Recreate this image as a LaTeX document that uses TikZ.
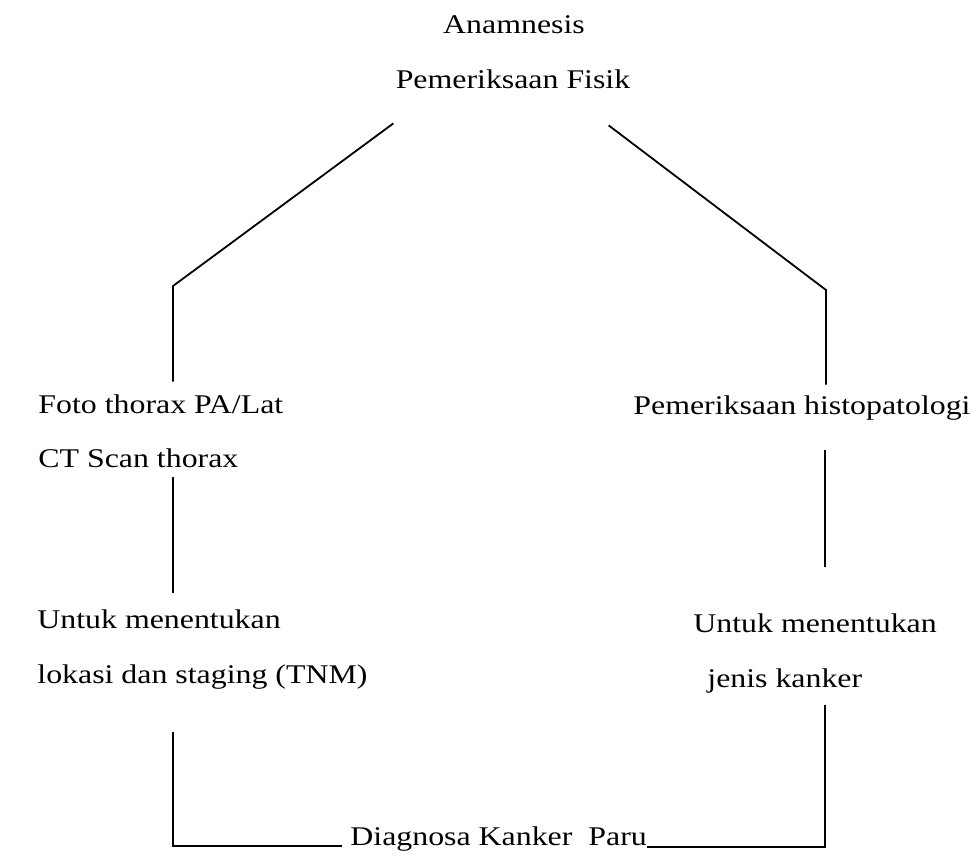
\documentclass[tikz,border=0pt]{standalone}
\usepackage{fontspec}
\setmainfont{Liberation Serif}[FakeStretch=1.18]
\usepackage{tikz}
\usetikzlibrary{calc}
\usetikzlibrary{positioning}
\tikzset{>=latex}
\tikzstyle{lbl} = [draw=none, inner sep=0, text height=9pt, text depth=3pt, font=\fontsize{13.5pt}{16pt}\selectfont]
\tikzstyle{link} = [-, line width=0.9pt, draw=black]

\begin{document}
\begin{tikzpicture}[x=0.5pt, y=-0.5pt]
\useasboundingbox (0, 0) rectangle (979, 857);
\node [lbl, anchor=base] (anam) at (514, 33) {Anamnesis};
\node [lbl, anchor=base] (fisik) at (513, 88) {Pemeriksaan Fisik};
\node [lbl, anchor=base west] (foto) at (38, 413) {Foto thorax PA/Lat};
\node [lbl, anchor=base west] (ct) at (38, 467) {CT Scan thorax};
\node [lbl, anchor=base west] (untukL) at (37, 628) {Untuk menentukan};
\node [lbl, anchor=base west] (lokasi) at (37, 683) {lokasi dan staging (TNM)};
\node [lbl, anchor=base west] (histo) at (633, 414) {Pemeriksaan histopatologi};
\node [lbl, anchor=base west] (untukR) at (693, 632) {Untuk menentukan};
\node [lbl, anchor=base west] (jenis) at (707, 687) {jenis kanker};
\node [lbl, anchor=base west] (diag) at (350, 845) {Diagnosa Kanker\ \ Paru};
\coordinate (topL) at ($(fisik.south west)+(-2, 29)$);
\coordinate (topR) at ($(fisik.south east)+(-22, 31)$);
\coordinate (kneeL) at (173, 286);
\coordinate (kneeR) at (826, 290);
\draw [link, shorten >=6.5pt] (topL) -- (kneeL) -- (kneeL |- foto.north);
\draw [link, shorten >=5.5pt] (topR) -- (kneeR) -- (kneeR |- histo.north);
\draw [link, shorten <=2pt, shorten >=8.5pt] (kneeL |- ct.south) -- (kneeL |- untukL.north);
\draw [link, shorten <=15pt, shorten >=23.5pt] ($(kneeR |- histo.south)+(-1, 0)$) -- ($(kneeR |- untukR.north)+(-1, 0)$);
\draw [link, shorten <=21.5pt, shorten >=4pt] (kneeL |- lokasi.south) -- ($(kneeL |- diag.base)+(0, 1)$) -- ($(diag.base west)+(0, 1)$);
\draw [link, shorten <=6pt] ($(kneeR |- jenis.south)+(-1, 0)$) -- ($(kneeR |- diag.base)+(-1, 2)$) -- ($(diag.base east)+(0, 2)$);
\end{tikzpicture}
\end{document}
